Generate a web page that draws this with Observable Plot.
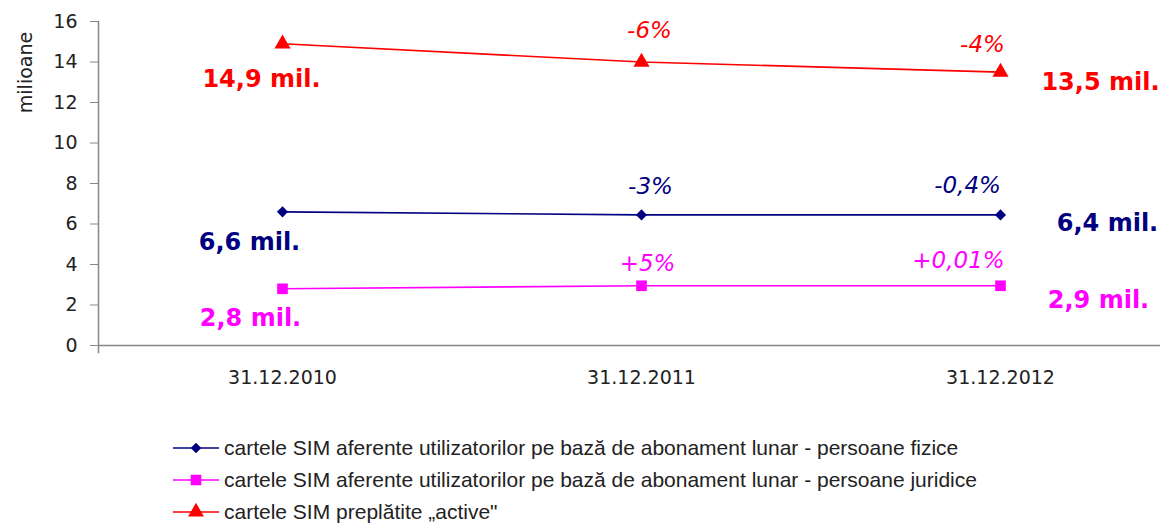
<!DOCTYPE html>
<html><head><meta charset="utf-8">
<script src="https://cdn.jsdelivr.net/npm/d3@7"></script>
<script src="https://cdn.jsdelivr.net/npm/@observablehq/plot@0.6"></script>
<style>
body{margin:0;background:#fff;}
#legend{font-family:"Liberation Sans",Arial,sans-serif;font-size:21px;color:#222;margin-left:173px;margin-top:40px;}
.row{display:flex;align-items:center;height:32px;}
.row svg{margin-right:5px;}
</style>
</head><body>
<div id="chart"></div>
<div id="legend"></div>
<script>
const dates = ["31.12.2010", "31.12.2011", "31.12.2012"];
const seriesNames = [
  "cartele SIM aferente utilizatorilor pe bază de abonament lunar - persoane fizice",
  "cartele SIM aferente utilizatorilor pe bază de abonament lunar - persoane juridice",
  "cartele SIM preplătite „active\""
];
const fizice = [6.6, 6.45, 6.45];
const juridice = [2.8, 2.95, 2.95];
const preplatite = [14.9, 14.0, 13.5];
const yTicks = [0, 2, 4, 6, 8, 10, 12, 14, 16];
const colors = ["#000080", "#ff00ff", "#ff0000"];
const symbols = ["diamond2", "square", "triangle"];
const valueLabels = [["6,6 mil.", "6,4 mil."], ["2,8 mil.", "2,9 mil."], ["14,9 mil.", "13,5 mil."]];
const pctLabels = [["-3%", "-0,4%"], ["+5%", "+0,01%"], ["-6%", "-4%"]];

const allSeries = [fizice, juridice, preplatite];
const rows = allSeries.flatMap((vals, s) => vals.map((v, i) => ({series: s, date: dates[i], value: v})));

// offsets for label placement (layout, not data)
const valOffsets = [[[-33, 30], [107, 8]], [[-32, 30], [98, 15]], [[-21, 36], [100, 10]]];
const pctOffsets = [[[9, -28], [-33, -29]], [[6, -22], [-42, -25]], [[8, -31], [-18, -28]]];

const labelMarks = [];
allSeries.forEach((vals, s) => {
  [0, 2].forEach((i, k) => {
    labelMarks.push(Plot.text([{date: dates[i], value: vals[i], t: valueLabels[s][k]}], {
      x: "date", y: "value", text: "t", fill: colors[s],
      dx: valOffsets[s][k][0], dy: valOffsets[s][k][1],
      fontSize: 24, fontWeight: "bold", fontFamily: "DejaVu Sans, sans-serif"
    }));
  });
  [1, 2].forEach((i, k) => {
    labelMarks.push(Plot.text([{date: dates[i], value: vals[i], t: pctLabels[s][k]}], {
      x: "date", y: "value", text: "t", fill: colors[s],
      dx: pctOffsets[s][k][0], dy: pctOffsets[s][k][1],
      fontSize: 23, fontStyle: "italic", fontFamily: "DejaVu Sans, sans-serif"
    }));
  });
});

const chart = Plot.plot({
  width: 1166, height: 392,
  marginLeft: 98, marginRight: 6, marginTop: 21, marginBottom: 47,
  style: {fontFamily: "DejaVu Sans, sans-serif", background: "#fff"},
  x: {type: "point", domain: dates, range: [281, 1000], padding: 0, label: null},
  y: {domain: [0, 16], label: null},
  marks: [
    Plot.axisY({ticks: yTicks, tickSize: 8, tickPadding: 13, fontSize: 19, stroke: "#888", fill: "#222", label: null}),
    Plot.text(["milioane"], {frameAnchor: "top-left", dx: -73, dy: 51, rotate: -90, textAnchor: "middle", lineAnchor: "middle", fontSize: 19, fill: "#222", text: d => d, fontFamily: "DejaVu Sans, sans-serif"}),
    Plot.axisX({tickSize: 0, tickPadding: 25, fontSize: 19, fill: "#222", label: null}),
    Plot.ruleY([0], {stroke: "#888", strokeWidth: 1.5}),
    Plot.frame({anchor: "left", stroke: "#888", strokeWidth: 1.5, insetBottom: -7}),
    ...allSeries.map((vals, s) => Plot.line(rows.filter(r => r.series === s), {x: "date", y: "value", stroke: colors[s], strokeWidth: 1.6})),
    ...allSeries.map((vals, s) => Plot.dot(rows.filter(r => r.series === s), {x: "date", y: "value", fill: colors[s], symbol: symbols[s], r: s === 0 ? 5 : 6})),
    ...labelMarks
  ]
});
document.getElementById("chart").appendChild(chart);

const legend = document.getElementById("legend");
seriesNames.forEach((name, s) => {
  const row = document.createElement("div");
  row.className = "row";
  const sym = s === 0
    ? d3.symbol(d3.symbolDiamond2, 70)()
    : d3.symbol(s === 1 ? d3.symbolSquare : d3.symbolTriangle, 110)();
  row.innerHTML = `<svg width="46" height="20"><line x1="0" x2="46" y1="10" y2="10" stroke="${colors[s]}" stroke-width="1.6"/><path d="${sym}" transform="translate(23,10)" fill="${colors[s]}"/></svg><span>${name}</span>`;
  legend.appendChild(row);
});
</script>
</body></html>
